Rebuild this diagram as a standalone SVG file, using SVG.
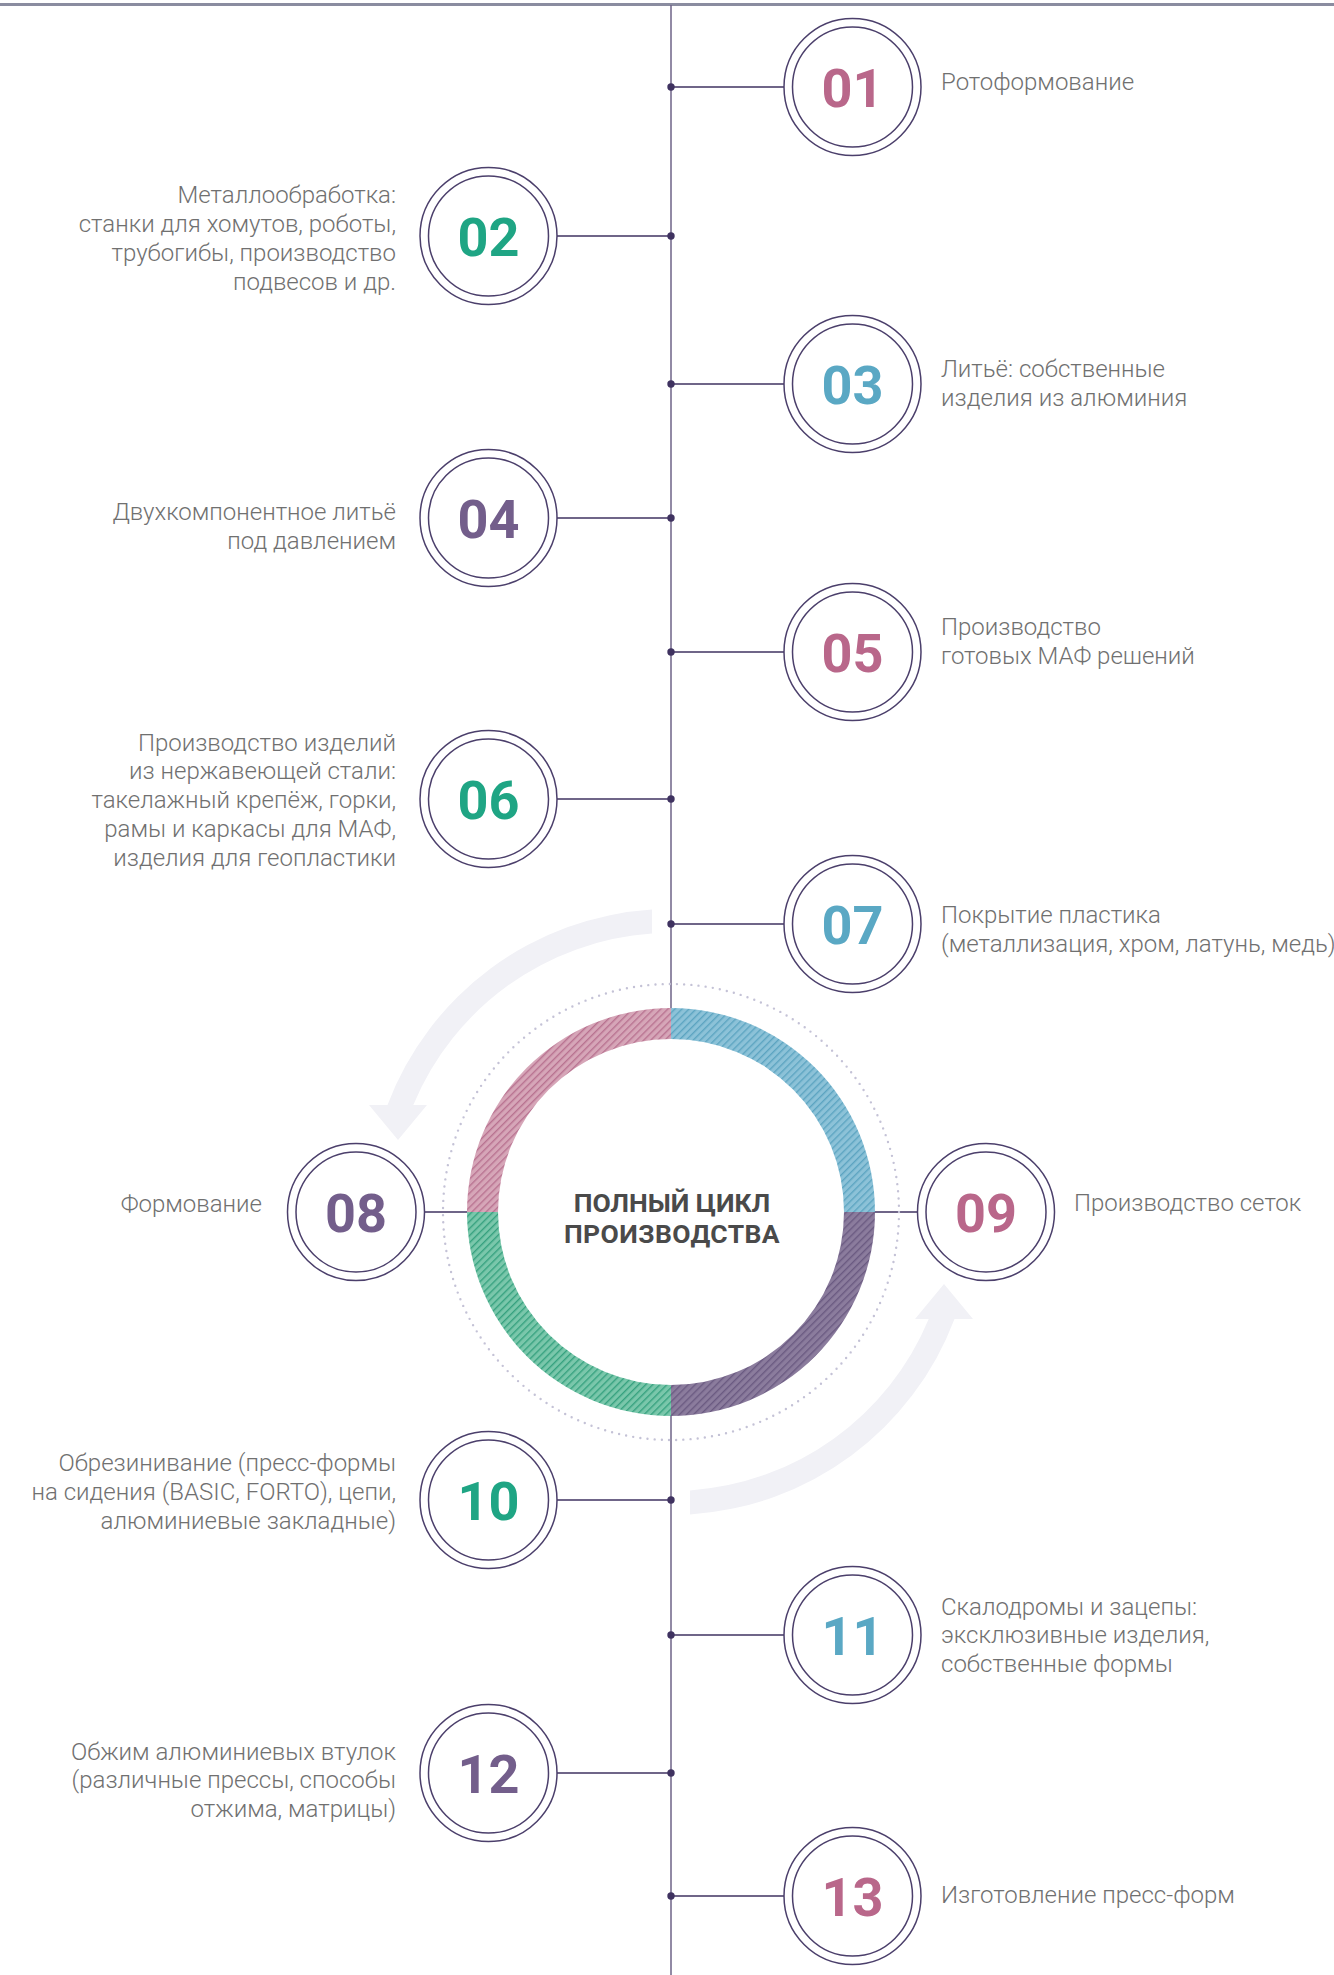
<svg xmlns="http://www.w3.org/2000/svg" width="1334" height="1975" viewBox="0 0 1334 1975">
<style>
.ring{fill:#fff;stroke:#4b3f6b;stroke-width:1.5}
.num{font-family:Roboto,"Liberation Sans",sans-serif;font-weight:700;font-size:54px;text-anchor:middle}
.lbl{font-family:Roboto,"Liberation Sans",sans-serif;font-weight:300;font-size:24px;fill:#707070}
.l{text-anchor:end}
.c{stroke:#3f3260;stroke-width:1.6;fill:none}
.dot{fill:#3f3260}
.arr{fill:#f1f1f6}
.pink{fill:#b9678a}.green{fill:#1fa584}.blue{fill:#5aa8c4}.purple{fill:#735e8b}
</style>
<defs>
<pattern id="pPink" width="5" height="5" patternUnits="userSpaceOnUse" patternTransform="rotate(45)"><rect width="5" height="5" fill="#d6a6b8"/><rect width="1.4" height="5" fill="#b87290"/></pattern>
<pattern id="pBlue" width="5" height="5" patternUnits="userSpaceOnUse" patternTransform="rotate(45)"><rect width="5" height="5" fill="#8cc2d8"/><rect width="1.4" height="5" fill="#5ca4c1"/></pattern>
<pattern id="pPurple" width="5" height="5" patternUnits="userSpaceOnUse" patternTransform="rotate(45)"><rect width="5" height="5" fill="#8b7c9d"/><rect width="1.4" height="5" fill="#6a5a81"/></pattern>
<pattern id="pGreen" width="5" height="5" patternUnits="userSpaceOnUse" patternTransform="rotate(45)"><rect width="5" height="5" fill="#7ac7ab"/><rect width="1.4" height="5" fill="#36a17f"/></pattern>
<path id="arrow" d="M652 909.6 A303 303 0 0 0 387.5 1105 L369 1105 L398 1140 L427 1105 L413.3 1105 A279 279 0 0 1 652 933.6 Z"/>
</defs>
<rect width="1334" height="1975" fill="#fff"/>
<rect x="0" y="3" width="1334" height="3" fill="#8a8ca0"/>

<g id="arrows">
<use href="#arrow" class="arr"/>
<use href="#arrow" class="arr" transform="rotate(180 671 1212)"/>
</g>

<g id="connectors">
<line x1="671" y1="5" x2="671" y2="1008" stroke="#6e6387" stroke-width="1.5"/>
<line x1="671" y1="1416" x2="671" y2="1975" stroke="#6e6387" stroke-width="1.5"/>
<line class="c" x1="671" y1="87" x2="784" y2="87"/><circle class="dot" cx="671" cy="87" r="3.7"/>
<line class="c" x1="557" y1="236" x2="671" y2="236"/><circle class="dot" cx="671" cy="236" r="3.7"/>
<line class="c" x1="671" y1="384" x2="784" y2="384"/><circle class="dot" cx="671" cy="384" r="3.7"/>
<line class="c" x1="557" y1="518" x2="671" y2="518"/><circle class="dot" cx="671" cy="518" r="3.7"/>
<line class="c" x1="671" y1="652" x2="784" y2="652"/><circle class="dot" cx="671" cy="652" r="3.7"/>
<line class="c" x1="557" y1="799" x2="671" y2="799"/><circle class="dot" cx="671" cy="799" r="3.7"/>
<line class="c" x1="671" y1="924" x2="784" y2="924"/><circle class="dot" cx="671" cy="924" r="3.7"/>
<line class="c" x1="424.5" y1="1212" x2="467" y2="1212"/>
<line class="c" x1="875" y1="1212" x2="917.5" y2="1212"/>
<line class="c" x1="557" y1="1500" x2="671" y2="1500"/><circle class="dot" cx="671" cy="1500" r="3.7"/>
<line class="c" x1="671" y1="1635" x2="784" y2="1635"/><circle class="dot" cx="671" cy="1635" r="3.7"/>
<line class="c" x1="557" y1="1773" x2="671" y2="1773"/><circle class="dot" cx="671" cy="1773" r="3.7"/>
<line class="c" x1="671" y1="1896" x2="784" y2="1896"/><circle class="dot" cx="671" cy="1896" r="3.7"/>
</g>

<g id="cycle">
<circle cx="671" cy="1212" r="228" fill="none" stroke="#c4c2d6" stroke-width="2.4" stroke-dasharray="0 7.2" stroke-linecap="round"/>
<path fill="url(#pPink)" d="M467 1212 A204 204 0 0 1 671 1008 L671 1039 A173 173 0 0 0 498 1212 Z"/>
<path fill="url(#pBlue)" d="M671 1008 A204 204 0 0 1 875 1212 L844 1212 A173 173 0 0 0 671 1039 Z"/>
<path fill="url(#pPurple)" d="M875 1212 A204 204 0 0 1 671 1416 L671 1385 A173 173 0 0 0 844 1212 Z"/>
<path fill="url(#pGreen)" d="M671 1416 A204 204 0 0 1 467 1212 L498 1212 A173 173 0 0 0 671 1385 Z"/>
<text font-family="Roboto,'Liberation Sans',sans-serif" font-weight="700" font-size="26.5" fill="#4a4a4a" text-anchor="middle"><tspan x="672" y="1212">ПОЛНЫЙ ЦИКЛ</tspan><tspan x="672" y="1243" letter-spacing="0.4">ПРОИЗВОДСТВА</tspan></text>
</g>

<g id="n01"><circle class="ring" cx="852.5" cy="87" r="68.5"/><circle class="ring" cx="852.5" cy="87" r="60"/><text class="num pink" x="852.5" y="106.5">01</text><text class="lbl" x="941" y="90">Ротоформование</text></g>
<g id="n02"><circle class="ring" cx="488.5" cy="236" r="68.5"/><circle class="ring" cx="488.5" cy="236" r="60"/><text class="num green" x="488.5" y="255.5">02</text><text class="lbl l"><tspan x="396" y="203">Металлообработка:</tspan><tspan x="396" y="232">станки для хомутов, роботы,</tspan><tspan x="396" y="261">трубогибы, производство</tspan><tspan x="396" y="290">подвесов и др.</tspan></text></g>
<g id="n03"><circle class="ring" cx="852.5" cy="384" r="68.5"/><circle class="ring" cx="852.5" cy="384" r="60"/><text class="num blue" x="852.5" y="403.5">03</text><text class="lbl"><tspan x="941" y="377">Литьё: собственные</tspan><tspan x="941" y="406">изделия из алюминия</tspan></text></g>
<g id="n04"><circle class="ring" cx="488.5" cy="518" r="68.5"/><circle class="ring" cx="488.5" cy="518" r="60"/><text class="num purple" x="488.5" y="537.5">04</text><text class="lbl l"><tspan x="396" y="520">Двухкомпонентное литьё</tspan><tspan x="396" y="549">под давлением</tspan></text></g>
<g id="n05"><circle class="ring" cx="852.5" cy="652" r="68.5"/><circle class="ring" cx="852.5" cy="652" r="60"/><text class="num pink" x="852.5" y="671.5">05</text><text class="lbl"><tspan x="941" y="635">Производство</tspan><tspan x="941" y="664">готовых МАФ решений</tspan></text></g>
<g id="n06"><circle class="ring" cx="488.5" cy="799" r="68.5"/><circle class="ring" cx="488.5" cy="799" r="60"/><text class="num green" x="488.5" y="818.5">06</text><text class="lbl l"><tspan x="396" y="751">Производство изделий</tspan><tspan x="396" y="779">из нержавеющей стали:</tspan><tspan x="396" y="808">такелажный крепёж, горки,</tspan><tspan x="396" y="837">рамы и каркасы для МАФ,</tspan><tspan x="396" y="866">изделия для геопластики</tspan></text></g>
<g id="n07"><circle class="ring" cx="852.5" cy="924" r="68.5"/><circle class="ring" cx="852.5" cy="924" r="60"/><text class="num blue" x="852.5" y="943.5">07</text><text class="lbl"><tspan x="941" y="923">Покрытие пластика</tspan><tspan x="941" y="952">(металлизация, хром, латунь, медь)</tspan></text></g>
<g id="n08"><circle class="ring" cx="356" cy="1212" r="68.5"/><circle class="ring" cx="356" cy="1212" r="60"/><text class="num purple" x="356" y="1231.5">08</text><text class="lbl l" x="262" y="1212">Формование</text></g>
<g id="n09"><circle class="ring" cx="986" cy="1212" r="68.5"/><circle class="ring" cx="986" cy="1212" r="60"/><text class="num pink" x="986" y="1231.5">09</text><text class="lbl" x="1074" y="1211">Производство сеток</text></g>
<g id="n10"><circle class="ring" cx="488.5" cy="1500" r="68.5"/><circle class="ring" cx="488.5" cy="1500" r="60"/><text class="num green" x="488.5" y="1519.5">10</text><text class="lbl l"><tspan x="396" y="1471">Обрезинивание (пресс-формы</tspan><tspan x="396" y="1500">на сидения (BASIC, FORTO), цепи,</tspan><tspan x="396" y="1529">алюминиевые закладные)</tspan></text></g>
<g id="n11"><circle class="ring" cx="852.5" cy="1635" r="68.5"/><circle class="ring" cx="852.5" cy="1635" r="60"/><text class="num blue" x="852.5" y="1654.5">11</text><text class="lbl"><tspan x="941" y="1615">Скалодромы и зацепы:</tspan><tspan x="941" y="1643">эксклюзивные изделия,</tspan><tspan x="941" y="1672">собственные формы</tspan></text></g>
<g id="n12"><circle class="ring" cx="488.5" cy="1773" r="68.5"/><circle class="ring" cx="488.5" cy="1773" r="60"/><text class="num purple" x="488.5" y="1792.5">12</text><text class="lbl l"><tspan x="396" y="1760">Обжим алюминиевых втулок</tspan><tspan x="396" y="1788">(различные прессы, способы</tspan><tspan x="396" y="1817">отжима, матрицы)</tspan></text></g>
<g id="n13"><circle class="ring" cx="852.5" cy="1896" r="68.5"/><circle class="ring" cx="852.5" cy="1896" r="60"/><text class="num pink" x="852.5" y="1915.5">13</text><text class="lbl" x="941" y="1903">Изготовление пресс-форм</text></g>
</svg>
